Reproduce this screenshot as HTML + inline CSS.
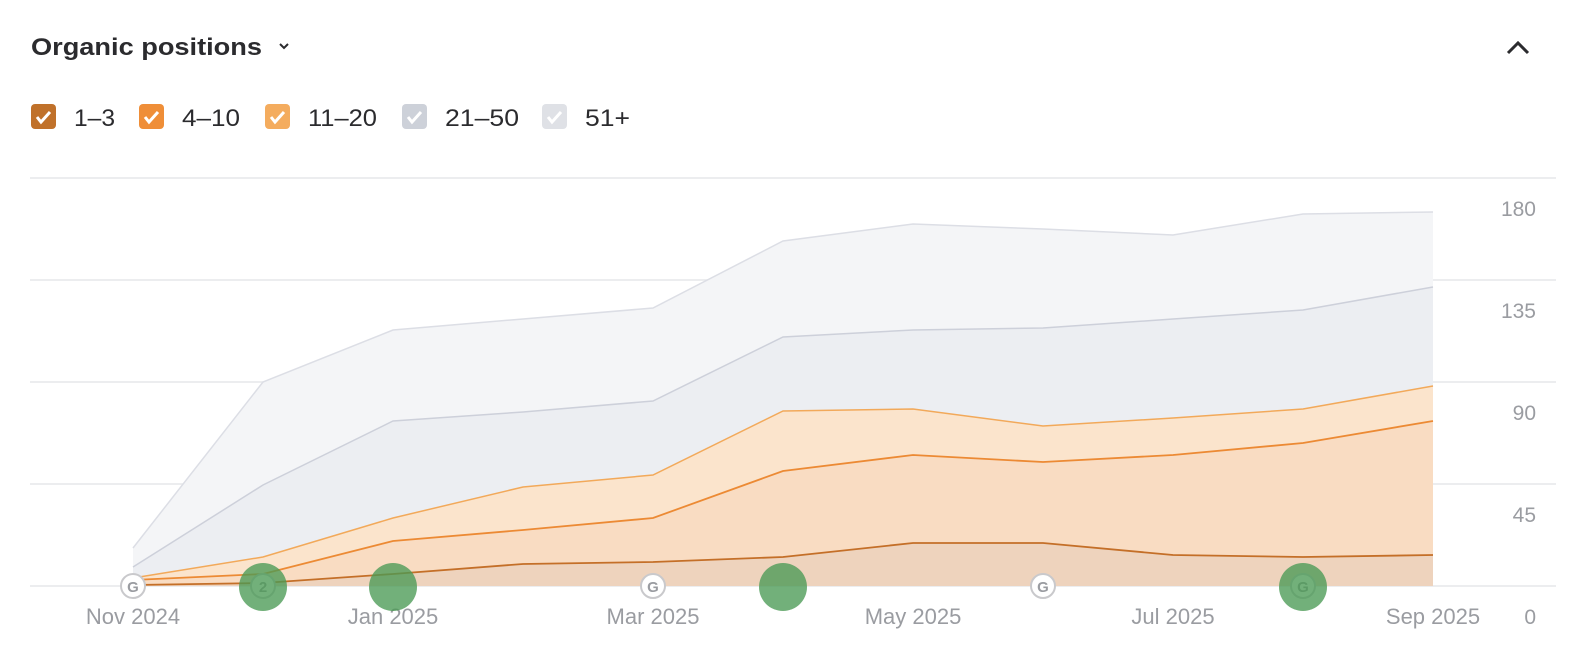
<!DOCTYPE html>
<html><head><meta charset="utf-8"><style>
html,body{margin:0;padding:0;background:#fff;width:1590px;height:656px;overflow:hidden;font-family:"Liberation Sans",sans-serif}
</style></head><body>
<svg width="1590" height="656" viewBox="0 0 1590 656" xmlns="http://www.w3.org/2000/svg" font-family="Liberation Sans, sans-serif">
<text x="31" y="55" font-size="24" font-weight="bold" fill="#2b2b2e" textLength="231" lengthAdjust="spacingAndGlyphs">Organic positions</text>
<path d="M280 44 l4 4 l4 -4" stroke="#2b2b2e" stroke-width="2" fill="none"/>
<path d="M1508 53 l10 -10 l10 10" stroke="#2b2b2e" stroke-width="3" fill="none"/>
<g font-size="24" fill="#2b2b2e">
<rect x="31" y="104" width="25" height="25" rx="4" fill="#c0712a"/><path d="M37 117 l4 5 l9 -10" stroke="#fff" stroke-width="3" fill="none"/><text x="74" y="126" textLength="41" lengthAdjust="spacingAndGlyphs">1–3</text>
<rect x="139" y="104" width="25" height="25" rx="4" fill="#ef8e38"/><path d="M145 117 l4 5 l9 -10" stroke="#fff" stroke-width="3" fill="none"/><text x="182" y="126" textLength="58" lengthAdjust="spacingAndGlyphs">4–10</text>
<rect x="265" y="104" width="25" height="25" rx="4" fill="#f4ac5e"/><path d="M271 117 l4 5 l9 -10" stroke="#fff" stroke-width="3" fill="none"/><text x="308" y="126" textLength="69" lengthAdjust="spacingAndGlyphs">11–20</text>
<rect x="402" y="104" width="25" height="25" rx="4" fill="#cdd1d9"/><path d="M408 117 l4 5 l9 -10" stroke="#fff" stroke-width="3" fill="none"/><text x="445" y="126" textLength="74" lengthAdjust="spacingAndGlyphs">21–50</text>
<rect x="542" y="104" width="25" height="25" rx="4" fill="#dfe1e6"/><path d="M548 117 l4 5 l9 -10" stroke="#fff" stroke-width="3" fill="none"/><text x="585" y="126" textLength="45" lengthAdjust="spacingAndGlyphs">51+</text>
</g>
<g stroke="#e6e7ea" stroke-width="1.5">
<line x1="30" y1="178" x2="1556" y2="178"/><line x1="30" y1="280" x2="1556" y2="280"/><line x1="30" y1="382" x2="1556" y2="382"/><line x1="30" y1="484" x2="1556" y2="484"/><line x1="30" y1="586" x2="1556" y2="586"/>
</g>
<g font-size="21" fill="#9a9ca1" text-anchor="end">
<text x="1536" y="216">180</text><text x="1536" y="318">135</text><text x="1536" y="420">90</text><text x="1536" y="522">45</text><text x="1536" y="624">0</text>
</g>
<g font-size="22" fill="#9a9ca1" text-anchor="middle">
<text x="133" y="624">Nov 2024</text><text x="393" y="624">Jan 2025</text><text x="653" y="624">Mar 2025</text><text x="913" y="624">May 2025</text><text x="1173" y="624">Jul 2025</text><text x="1433" y="624">Sep 2025</text>
</g>
<path d="M133 548 L263 382 L393 330 L523 319 L653 308 L783 241 L913 224 L1043 229 L1173 235 L1303 214 L1433 212 L1433 586 L133 586Z" fill="#f4f5f7" stroke="none"/>
<path d="M133 548 L263 382 L393 330 L523 319 L653 308 L783 241 L913 224 L1043 229 L1173 235 L1303 214 L1433 212" fill="none" stroke="#dcdee5" stroke-width="1.5"/>
<path d="M133 567 L263 485 L393 421 L523 412 L653 401 L783 337 L913 330 L1043 328 L1173 319 L1303 310 L1433 287 L1433 586 L133 586Z" fill="#eceef2"/>
<path d="M133 567 L263 485 L393 421 L523 412 L653 401 L783 337 L913 330 L1043 328 L1173 319 L1303 310 L1433 287" fill="none" stroke="#cdd0da" stroke-width="1.5"/>
<path d="M133 578 L263 557 L393 518 L523 487 L653 475 L783 411 L913 409 L1043 426 L1173 418 L1303 409 L1433 386 L1433 586 L133 586Z" fill="#fbe4cc"/>
<path d="M133 578 L263 557 L393 518 L523 487 L653 475 L783 411 L913 409 L1043 426 L1173 418 L1303 409 L1433 386" fill="none" stroke="#f2a95a" stroke-width="1.5"/>
<path d="M133 580 L263 574 L393 541 L523 530 L653 518 L783 471 L913 455 L1043 462 L1173 455 L1303 443 L1433 421 L1433 586 L133 586Z" fill="#f9dcc2"/>
<path d="M133 580 L263 574 L393 541 L523 530 L653 518 L783 471 L913 455 L1043 462 L1173 455 L1303 443 L1433 421" fill="none" stroke="#ec8a34" stroke-width="1.8"/>
<path d="M133 585 L263 583 L393 574 L523 564 L653 562 L783 557 L913 543 L1043 543 L1173 555 L1303 557 L1433 555 L1433 586 L133 586Z" fill="#eed3bd"/>
<path d="M133 585 L263 583 L393 574 L523 564 L653 562 L783 557 L913 543 L1043 543 L1173 555 L1303 557 L1433 555" fill="none" stroke="#c46f28" stroke-width="1.8"/>
<g stroke="#c9c9cc" stroke-width="2" fill="#fff" font-size="15" font-weight="bold" text-anchor="middle">
<circle cx="133" cy="586" r="12"/><text x="133" y="592" fill="#9a9ca1" stroke="none">G</text>
<circle cx="653" cy="586" r="12"/><text x="653" y="592" fill="#9a9ca1" stroke="none">G</text>
<circle cx="1043" cy="586" r="12"/><text x="1043" y="592" fill="#9a9ca1" stroke="none">G</text>
<circle cx="263" cy="586" r="12"/><text x="263" y="592" fill="#9a9ca1" stroke="none">2</text>
<circle cx="1303" cy="586" r="12"/><text x="1303" y="592" fill="#9a9ca1" stroke="none">G</text>
</g>
<g fill="#4a9a55" fill-opacity="0.78">
<circle cx="263" cy="587" r="24"/><circle cx="393" cy="587" r="24"/><circle cx="783" cy="587" r="24"/><circle cx="1303" cy="587" r="24"/>
</g>
</svg>
</body></html>
